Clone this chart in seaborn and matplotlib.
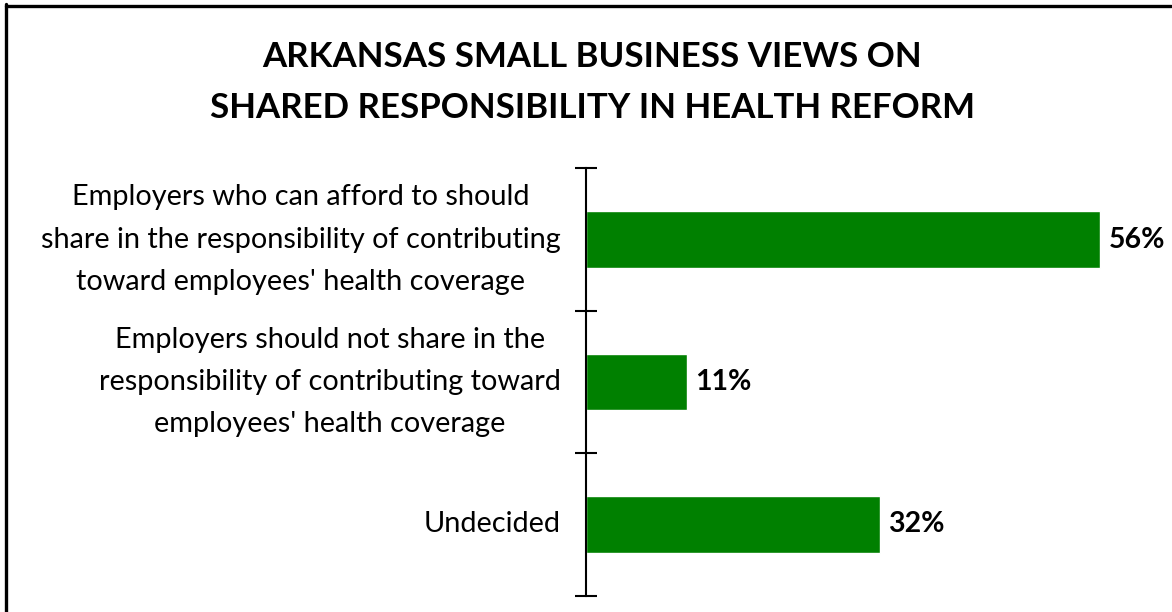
import matplotlib
matplotlib.use("Agg")
import matplotlib.pyplot as plt
from matplotlib.lines import Line2D
import seaborn as sns
import pandas as pd

# Survey responses
categories = [
    "Employers who can afford to should\nshare in the responsibility of contributing\ntoward employees' health coverage",
    "Employers should not share in the\nresponsibility of contributing toward\nemployees' health coverage",
    "Undecided",
]
values = [56, 11, 32]
value_labels = ["56%", "11%", "32%"]
title = "ARKANSAS SMALL BUSINESS VIEWS ON\nSHARED RESPONSIBILITY IN HEALTH REFORM"

sns.set_style("white")
plt.rcParams["font.family"] = ["Lato", "DejaVu Sans"]

df = pd.DataFrame({"category": categories, "value": values})

W, H, DPI = 1172, 612, 100
fig = plt.figure(figsize=(W / DPI, H / DPI), dpi=DPI)
ax = fig.add_axes([585.7 / W, 1 - 595.7 / H, (1164.3 - 585.7) / W, (595.7 - 168.3) / H])

sns.barplot(data=df, x="value", y="category", orient="h", color="#008000",
            width=0.4, saturation=1, ax=ax)

ax.set_xlim(0, 63)
ax.set_ylim(2.5, -0.5)
ax.set_xlabel("")
ax.set_ylabel("")
ax.set_xticks([])

# Boundary ticks between categories; labels sit on minor ticks at bar centres
n = len(categories)
ax.set_yticks([i - 0.5 for i in range(n + 1)])
ax.set_yticklabels([])
ax.set_yticks(range(n), minor=True)
ax.set_yticklabels(categories, minor=True, fontsize=20.8, color="black",
                   multialignment="center", linespacing=1.78, va="center")
ax.tick_params(axis="y", which="major", left=True, direction="inout", length=15.8,
               width=1.5, color="black")
ax.tick_params(axis="y", which="minor", left=True, length=0, pad=18)

for side in ["top", "right", "bottom"]:
    ax.spines[side].set_visible(False)
ax.spines["left"].set_linewidth(1.5)
ax.spines["left"].set_color("black")

ax.bar_label(ax.containers[0], labels=value_labels, padding=6, fontsize=20.5,
             fontweight="bold", color="black")

fig.text(592 / W, 1 - 82.5 / H, title, ha="center", va="center", fontsize=25.1,
         fontweight="bold", linespacing=1.76, color="black")

# Frame lines on top and left edges
fig.add_artist(Line2D([5.5 / W, 1171 / W], [1 - 5.5 / H, 1 - 5.5 / H],
                      transform=fig.transFigure, color="black", linewidth=2.4))
fig.add_artist(Line2D([5.5 / W, 5.5 / W], [0, 1 - 4.3 / H],
                      transform=fig.transFigure, color="black", linewidth=2.4))

fig.savefig("out.png", dpi=DPI, facecolor="white")
